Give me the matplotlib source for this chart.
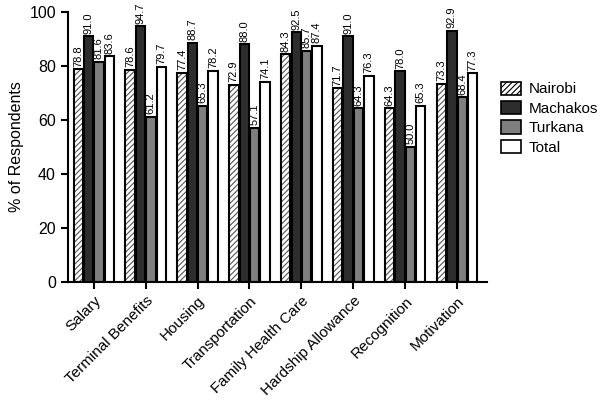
import numpy as np
import matplotlib
matplotlib.use("Agg")
import matplotlib.pyplot as plt
from matplotlib.patches import Patch

plt.rcParams['font.family'] = ['Liberation Sans', 'DejaVu Sans']
plt.rcParams['hatch.linewidth'] = 0.8

# data
categories = ['Salary', 'Terminal Benefits', 'Housing', 'Transportation',
              'Family Health Care', 'Hardship Allowance', 'Recognition', 'Motivation']
nairobi = [78.8, 78.6, 77.4, 72.9, 84.3, 71.7, 64.3, 73.3]
machakos = [91.0, 94.7, 88.7, 88.0, 92.5, 91.0, 78.0, 92.9]
turkana = [81.6, 61.2, 65.3, 57.1, 85.7, 64.3, 50.0, 68.4]
total = [83.6, 79.7, 78.2, 74.1, 87.4, 76.3, 65.3, 77.3]

series = [('Nairobi', nairobi, 'white', '//////'),
          ('Machakos', machakos, '#2d2d2d', None),
          ('Turkana', turkana, '#7f7f7f', None),
          ('Total', total, 'white', None)]

fig = plt.figure(figsize=(6, 4), dpi=100)
ax = fig.add_axes([0.113, 0.295, 0.699, 0.675])

x = np.arange(len(categories))
w = 0.18
for i, (name, vals, col, hatch) in enumerate(series):
    pos = x + (i - 1.5) * (w + 0.02)
    ax.bar(pos, vals, w, color=col, edgecolor='#555555' if hatch else 'black',
           hatch=hatch, linewidth=0, zorder=2)
    # black outline drawn separately so the hatch can stay grey
    ax.bar(pos, vals, w, fill=False, edgecolor='black', linewidth=1.5, zorder=3)
    for xp, v in zip(pos, vals):
        ax.text(xp, v + 1, f'{v:.1f}', rotation=90, ha='center', va='bottom',
                fontsize=8, zorder=4)

ax.set_xlim(-0.5, 7.58)
ax.set_ylim(0, 100)
ax.set_yticks([0, 20, 40, 60, 80, 100])
ax.set_xticks(x)
ax.set_xticklabels(categories, rotation=45, ha='right', rotation_mode='anchor', fontsize=11)
ax.tick_params(axis='y', labelsize=11.5, width=1.5, length=5)
ax.tick_params(axis='x', width=1.5, length=5)
ax.set_ylabel('% of Respondents', fontsize=11.5)
for s in ['top', 'right']:
    ax.spines[s].set_visible(False)
for s in ['left', 'bottom']:
    ax.spines[s].set_linewidth(1.5)

handles = [Patch(facecolor=c, edgecolor='black', hatch=h, linewidth=1.2, label=n)
           for n, _, c, h in series]
fig.legend(handles=handles, loc='upper left', bbox_to_anchor=(0.822, 0.815),
           frameon=False, fontsize=11, handlelength=1.3, handleheight=0.95,
           labelspacing=0.3, handletextpad=0.5, borderpad=0)

fig.savefig('out.png', dpi=100)
plt.close()
